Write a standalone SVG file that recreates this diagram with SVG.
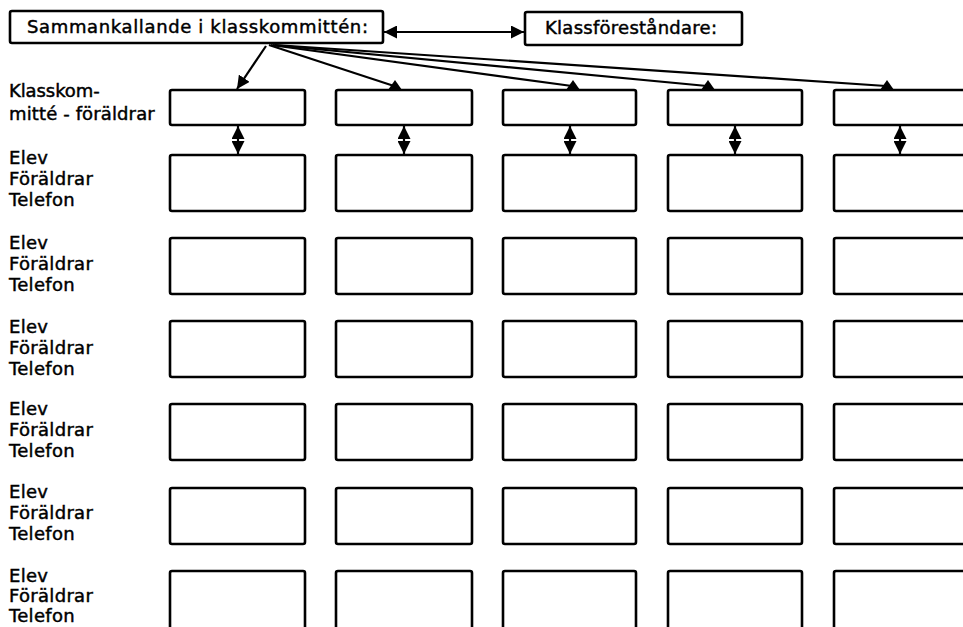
<svg xmlns="http://www.w3.org/2000/svg" width="963" height="627" viewBox="0 0 963 627">
  <style>
    .bg { fill: #ffffff; }
    .box { fill: #ffffff; stroke: #000000; stroke-width: 2.6; }
    .t { font-family: "DejaVu Sans", "Liberation Sans", sans-serif; font-size: 18px; fill: #000000; stroke: #000000; stroke-width: 0.45; }
    .lbl { font-family: "DejaVu Sans", "Liberation Sans", sans-serif; font-size: 18px; fill: #000000; stroke: #000000; stroke-width: 0.45; letter-spacing: 0.3px; }
    .ln { fill: none; stroke: #000000; stroke-width: 2.2; }
    .head { fill: #000000; stroke: none; }
  </style>
  <defs>
    <marker id="ah" viewBox="0 0 12 12" refX="12" refY="6" markerUnits="userSpaceOnUse" markerWidth="13" markerHeight="13" orient="auto-start-reverse">
      <path d="M0,0 L12,6 L0,12 z" fill="#000000"/>
    </marker>
  </defs>
  <rect class="bg" x="0" y="0" width="963" height="627"/>

  <g id="sammankallande">
    <rect class="box" x="10" y="11" width="373" height="32" rx="2"/>
    <text class="t" x="27" y="33" textLength="341" lengthAdjust="spacing">Sammankallande i klasskommittén:</text>
  </g>
  <g id="klassforestandare">
    <rect class="box" x="525" y="12" width="217" height="33" rx="2"/>
    <text class="t" x="545" y="34" textLength="172" lengthAdjust="spacing">Klassföreståndare:</text>
  </g>

  <g id="labels">
    <text class="lbl" x="9" y="97" textLength="91" lengthAdjust="spacing">Klasskom-</text>
    <text class="lbl" x="9" y="120" textLength="146" lengthAdjust="spacing">mitté - föräldrar</text>
    <text class="lbl" x="9"><tspan x="9" y="164">Elev</tspan><tspan x="9" y="185">Föräldrar</tspan><tspan x="9" y="206">Telefon</tspan></text>
    <text class="lbl" x="9"><tspan x="9" y="249">Elev</tspan><tspan x="9" y="270">Föräldrar</tspan><tspan x="9" y="291">Telefon</tspan></text>
    <text class="lbl" x="9"><tspan x="9" y="333">Elev</tspan><tspan x="9" y="354">Föräldrar</tspan><tspan x="9" y="375">Telefon</tspan></text>
    <text class="lbl" x="9"><tspan x="9" y="415">Elev</tspan><tspan x="9" y="436">Föräldrar</tspan><tspan x="9" y="457">Telefon</tspan></text>
    <text class="lbl" x="9"><tspan x="9" y="498">Elev</tspan><tspan x="9" y="519">Föräldrar</tspan><tspan x="9" y="540">Telefon</tspan></text>
    <text class="lbl" x="9"><tspan x="9" y="582">Elev</tspan><tspan x="9" y="602">Föräldrar</tspan><tspan x="9" y="622">Telefon</tspan></text>
  </g>

  <g id="kommitte-1"><rect class="box" x="170" y="90" width="135" height="35" rx="2"/></g>
  <g id="kommitte-2"><rect class="box" x="336" y="90" width="136" height="35" rx="2"/></g>
  <g id="kommitte-3"><rect class="box" x="503" y="90" width="133" height="35" rx="2"/></g>
  <g id="kommitte-4"><rect class="box" x="668" y="90" width="134" height="35" rx="2"/></g>
  <g id="kommitte-5"><rect class="box" x="834" y="90" width="140" height="35" rx="2"/></g>

  <g id="elev-col1">
    <rect class="box" x="170" y="155" width="135" height="56" rx="2"/>
    <rect class="box" x="170" y="238" width="135" height="56" rx="2"/>
    <rect class="box" x="170" y="321" width="135" height="56" rx="2"/>
    <rect class="box" x="170" y="404" width="135" height="56" rx="2"/>
    <rect class="box" x="170" y="488" width="135" height="56" rx="2"/>
    <rect class="box" x="170" y="571" width="135" height="70" rx="2"/>
  </g>
  <g id="elev-col2">
    <rect class="box" x="336" y="155" width="136" height="56" rx="2"/>
    <rect class="box" x="336" y="238" width="136" height="56" rx="2"/>
    <rect class="box" x="336" y="321" width="136" height="56" rx="2"/>
    <rect class="box" x="336" y="404" width="136" height="56" rx="2"/>
    <rect class="box" x="336" y="488" width="136" height="56" rx="2"/>
    <rect class="box" x="336" y="571" width="136" height="70" rx="2"/>
  </g>
  <g id="elev-col3">
    <rect class="box" x="503" y="155" width="133" height="56" rx="2"/>
    <rect class="box" x="503" y="238" width="133" height="56" rx="2"/>
    <rect class="box" x="503" y="321" width="133" height="56" rx="2"/>
    <rect class="box" x="503" y="404" width="133" height="56" rx="2"/>
    <rect class="box" x="503" y="488" width="133" height="56" rx="2"/>
    <rect class="box" x="503" y="571" width="133" height="70" rx="2"/>
  </g>
  <g id="elev-col4">
    <rect class="box" x="668" y="155" width="134" height="56" rx="2"/>
    <rect class="box" x="668" y="238" width="134" height="56" rx="2"/>
    <rect class="box" x="668" y="321" width="134" height="56" rx="2"/>
    <rect class="box" x="668" y="404" width="134" height="56" rx="2"/>
    <rect class="box" x="668" y="488" width="134" height="56" rx="2"/>
    <rect class="box" x="668" y="571" width="134" height="70" rx="2"/>
  </g>
  <g id="elev-col5">
    <rect class="box" x="834" y="155" width="140" height="56" rx="2"/>
    <rect class="box" x="834" y="238" width="140" height="56" rx="2"/>
    <rect class="box" x="834" y="321" width="140" height="56" rx="2"/>
    <rect class="box" x="834" y="404" width="140" height="56" rx="2"/>
    <rect class="box" x="834" y="488" width="140" height="56" rx="2"/>
    <rect class="box" x="834" y="571" width="140" height="70" rx="2"/>
  </g>

  <g id="connectors">
    <line class="ln" x1="384" y1="32" x2="524" y2="32" marker-start="url(#ah)" marker-end="url(#ah)"/>
    <line class="ln" x1="266" y1="46" x2="237" y2="89" marker-end="url(#ah)"/>
    <line class="ln" x1="269" y1="45" x2="394" y2="86"/>
    <line class="ln" x1="271" y1="45" x2="572" y2="86"/>
    <line class="ln" x1="273" y1="45" x2="707" y2="86"/>
    <line class="ln" x1="275" y1="45" x2="886" y2="86"/>
    <polygon class="head" points="388,90 395,80 402,90"/>
    <polygon class="head" points="566,90 573,80 580,90"/>
    <polygon class="head" points="701,90 708,80 715,90"/>
    <polygon class="head" points="880,90 887,80 894,90"/>
    <line class="ln" x1="238" y1="126" x2="238" y2="154" marker-start="url(#ah)" marker-end="url(#ah)"/>
    <line class="ln" x1="404" y1="126" x2="404" y2="154" marker-start="url(#ah)" marker-end="url(#ah)"/>
    <line class="ln" x1="570" y1="126" x2="570" y2="154" marker-start="url(#ah)" marker-end="url(#ah)"/>
    <line class="ln" x1="735" y1="126" x2="735" y2="154" marker-start="url(#ah)" marker-end="url(#ah)"/>
    <line class="ln" x1="900" y1="126" x2="900" y2="154" marker-start="url(#ah)" marker-end="url(#ah)"/>
  </g>
</svg>
